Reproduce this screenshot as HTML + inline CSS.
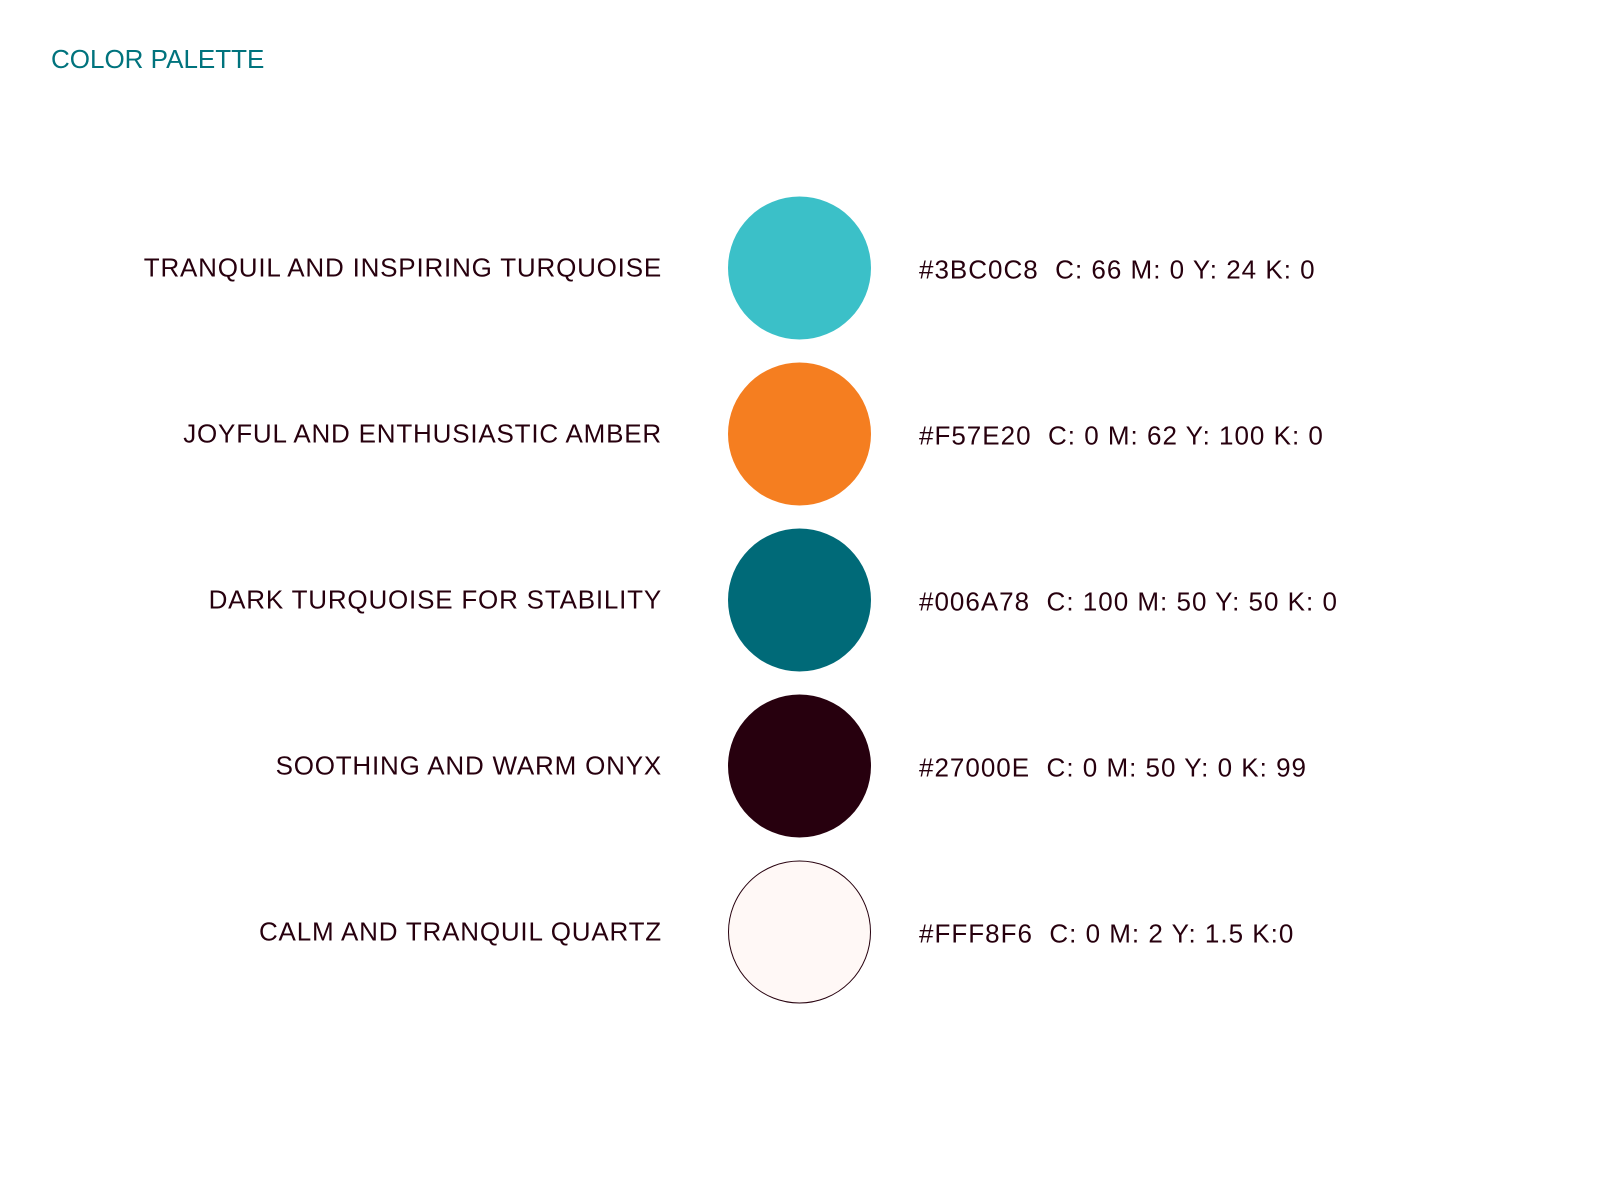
<!DOCTYPE html>
<html><head><meta charset="utf-8"><style>
html,body{margin:0;padding:0;background:#fff;}
body{width:1600px;height:1200px;position:relative;overflow:hidden;font-family:"Liberation Sans",sans-serif;}
.title{position:absolute;left:51px;top:44px;font-size:26px;color:#00737d;}
.label{position:absolute;right:938px;font-size:26px;color:#27000e;white-space:nowrap;transform:translateY(-50%);letter-spacing:0.8px;}
.code{position:absolute;left:919px;font-size:26px;color:#27000e;white-space:pre;transform:translateY(-50%);letter-spacing:1px;}
.sw{position:absolute;left:728px;width:143px;height:143px;border-radius:50%;box-sizing:border-box;transform:translateY(-50%);}
</style></head><body>
<div class="title">COLOR PALETTE</div>
<div id="rows"></div>
<script>
const names=["TRANQUIL AND INSPIRING TURQUOISE","JOYFUL AND ENTHUSIASTIC AMBER","DARK TURQUOISE FOR STABILITY","SOOTHING AND WARM ONYX","CALM AND TRANQUIL QUARTZ"];
const colors=["#3BC0C8","#F57E20","#006A78","#27000E","#FFF8F6"];
const codes=["#3BC0C8  C: 66 M: 0 Y: 24 K: 0","#F57E20  C: 0 M: 62 Y: 100 K: 0","#006A78  C: 100 M: 50 Y: 50 K: 0","#27000E  C: 0 M: 50 Y: 0 K: 99","#FFF8F6  C: 0 M: 2 Y: 1.5 K:0"];
const root=document.getElementById('rows');
const y0=268, dy=166;
names.forEach((n,i)=>{
  const y=y0+i*dy;
  const l=document.createElement('div');l.className='label';l.style.top=y+'px';l.textContent=n;
  
  
  const c=document.createElement('div');c.className='sw';c.style.top=y+'px';c.style.background=colors[i];
  if(colors[i]==="#FFF8F6")c.style.border='1px solid #27000e';
  
  
  const t=document.createElement('div');t.className='code';t.style.top=(y+2)+'px';t.textContent=codes[i];
  
  
  root.appendChild(l);root.appendChild(c);root.appendChild(t);
});
</script>
</body></html>
